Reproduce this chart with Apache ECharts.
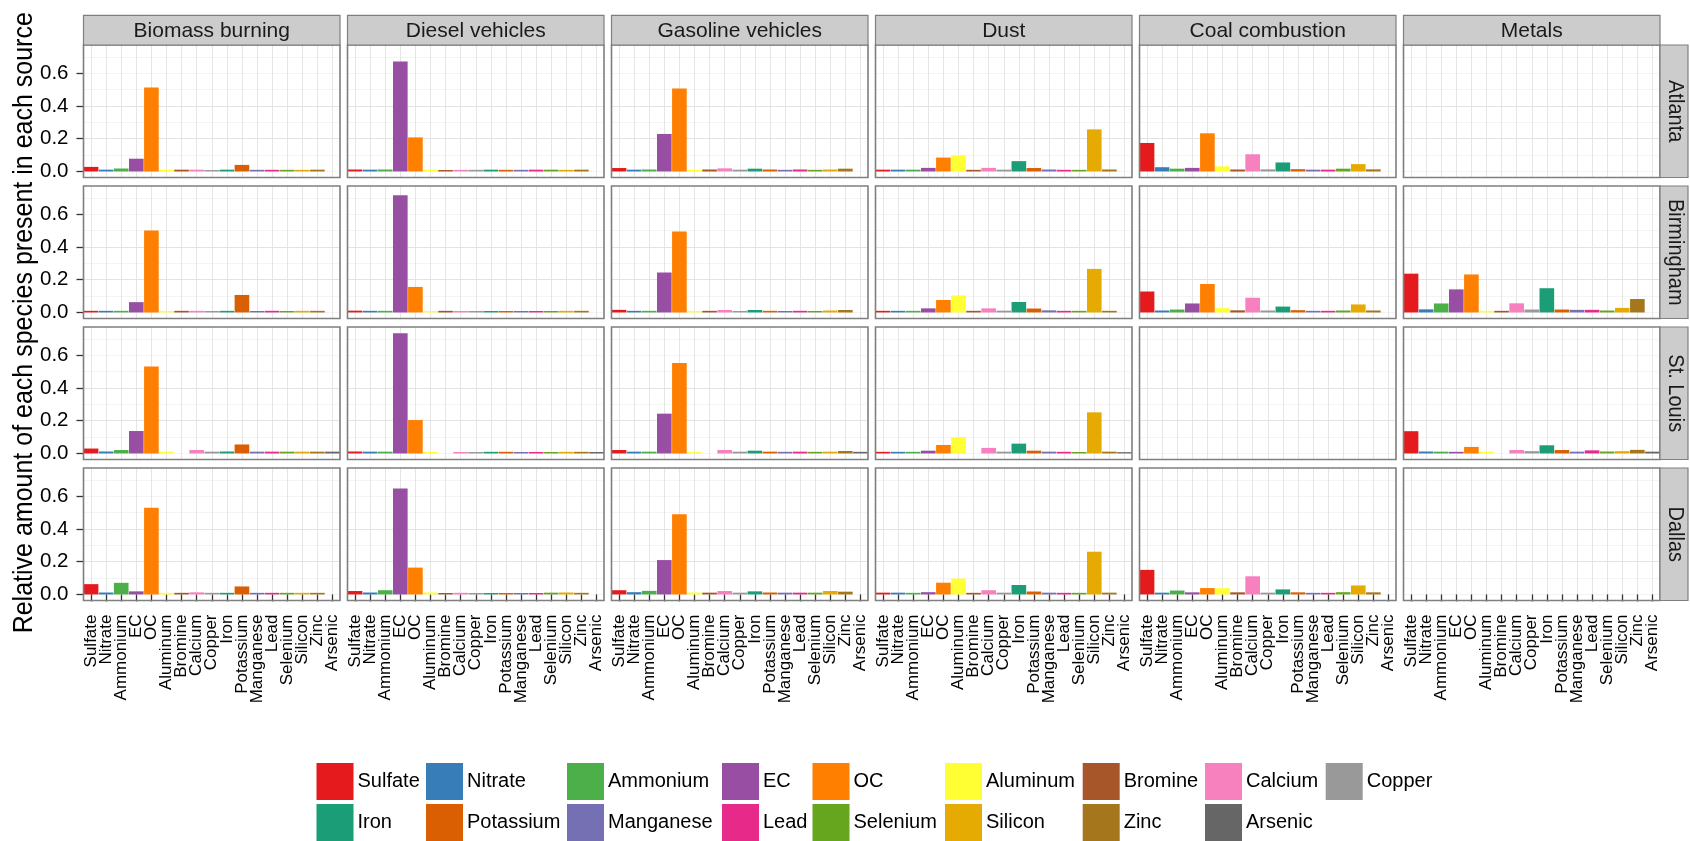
<!DOCTYPE html>
<html>
<head>
<meta charset="utf-8">
<script src="https://cdn.jsdelivr.net/npm/echarts@6/dist/echarts.min.js"></script>
<style>
  html, body { margin: 0; padding: 0; background: #fff; }
  #chart { width: 1690px; height: 841px; }
</style>
</head>
<body>
<div id="chart"></div>
<script>
// Species measured in each source profile (x categories, shared by every panel)
const species = ['Sulfate', 'Nitrate', 'Ammonium', 'EC', 'OC', 'Aluminum', 'Bromine', 'Calcium', 'Copper',
  'Iron', 'Potassium', 'Manganese', 'Lead', 'Selenium', 'Silicon', 'Zinc', 'Arsenic'];
const speciesColors = ['#E41A1C', '#377EB8', '#4DAF4A', '#984EA3', '#FF7F00', '#FFFF33', '#A65628', '#F781BF', '#999999',
  '#1B9E77', '#D95F02', '#7570B3', '#E7298A', '#66A61E', '#E6AB02', '#A6761D', '#666666'];

// Facet columns and rows
const sources = ['Biomass burning', 'Diesel vehicles', 'Gasoline vehicles', 'Dust', 'Coal combustion', 'Metals'];
const cities = ['Atlanta', 'Birmingham', 'St. Louis', 'Dallas'];

// Y tick labels
const yTicks = [0, 0.2, 0.4, 0.6];

// Source profiles: one row per source (same order as `sources`).
// A null row means no profile for that city; a null value means the species was not measured.
const atlanta = [
  [0.028, 0.011, 0.018, 0.078, 0.513, 0.010, 0.011, 0.011, 0.009, 0.011, 0.040, 0.010, 0.010, 0.010, 0.010, 0.011, null],
  [0.012, 0.011, 0.012, 0.672, 0.208, 0.011, 0.009, 0.010, 0.010, 0.011, 0.010, 0.010, 0.011, 0.011, 0.010, 0.011, null],
  [0.021, 0.011, 0.012, 0.229, 0.507, 0.009, 0.012, 0.019, 0.011, 0.017, 0.012, 0.010, 0.012, 0.010, 0.012, 0.017, null],
  [0.011, 0.011, 0.011, 0.022, 0.085, 0.099, 0.010, 0.022, 0.011, 0.063, 0.021, 0.012, 0.010, 0.010, 0.257, 0.012, null],
  [0.174, 0.026, 0.017, 0.022, 0.233, 0.031, 0.012, 0.105, 0.013, 0.055, 0.014, 0.011, 0.011, 0.017, 0.045, 0.013, null],
  null
];
const birmingham = [
  [0.010, 0.010, 0.010, 0.063, 0.500, 0.009, 0.010, 0.010, 0.009, 0.010, 0.107, 0.009, 0.010, 0.009, 0.010, 0.010, null],
  [0.011, 0.010, 0.010, 0.716, 0.156, 0.009, 0.010, 0.009, 0.009, 0.009, 0.009, 0.009, 0.009, 0.009, 0.010, 0.010, null],
  [0.016, 0.010, 0.010, 0.244, 0.495, 0.009, 0.010, 0.015, 0.009, 0.015, 0.010, 0.009, 0.010, 0.009, 0.012, 0.015, null],
  [0.010, 0.010, 0.010, 0.025, 0.076, 0.104, 0.010, 0.025, 0.011, 0.064, 0.024, 0.013, 0.010, 0.010, 0.266, 0.010, null],
  [0.128, 0.012, 0.018, 0.055, 0.174, 0.026, 0.013, 0.090, 0.012, 0.036, 0.014, 0.010, 0.010, 0.012, 0.049, 0.012, null],
  [0.237, 0.019, 0.055, 0.141, 0.232, 0.010, 0.010, 0.056, 0.018, 0.148, 0.018, 0.016, 0.016, 0.012, 0.028, 0.082, null]
];
const stLouis = [
  [0.030, 0.012, 0.021, 0.137, 0.531, 0.011, null, 0.021, 0.011, 0.012, 0.055, 0.011, 0.011, 0.011, 0.011, 0.011, 0.011],
  [0.012, 0.011, 0.011, 0.734, 0.204, 0.009, null, 0.009, 0.009, 0.010, 0.010, 0.009, 0.009, 0.009, 0.010, 0.010, 0.009],
  [0.021, 0.011, 0.011, 0.243, 0.552, 0.008, null, 0.021, 0.011, 0.017, 0.011, 0.010, 0.011, 0.010, 0.011, 0.015, 0.010],
  [0.010, 0.010, 0.010, 0.017, 0.052, 0.100, null, 0.034, 0.011, 0.060, 0.017, 0.011, 0.010, 0.009, 0.251, 0.011, 0.008],
  null,
  [0.136, 0.012, 0.011, 0.010, 0.040, 0.011, null, 0.021, 0.014, 0.050, 0.021, 0.011, 0.019, 0.012, 0.014, 0.022, 0.011]
];
const dallas = [
  [0.063, 0.012, 0.071, 0.019, 0.530, 0.010, 0.010, 0.013, 0.010, 0.010, 0.049, 0.010, 0.010, 0.010, 0.010, 0.010, null],
  [0.021, 0.012, 0.026, 0.647, 0.164, 0.012, 0.009, 0.010, 0.009, 0.009, 0.009, 0.009, 0.009, 0.011, 0.012, 0.010, null],
  [0.026, 0.014, 0.022, 0.210, 0.490, 0.012, 0.011, 0.021, 0.011, 0.019, 0.012, 0.011, 0.011, 0.011, 0.021, 0.017, null],
  [0.011, 0.011, 0.010, 0.014, 0.072, 0.097, 0.010, 0.026, 0.011, 0.058, 0.018, 0.011, 0.010, 0.010, 0.261, 0.011, null],
  [0.150, 0.011, 0.024, 0.013, 0.039, 0.038, 0.013, 0.111, 0.011, 0.031, 0.013, 0.010, 0.010, 0.014, 0.055, 0.013, null],
  null
];
const profilesByCity = [atlanta, birmingham, stLouis, dallas];

// Legend layout: two rows, filled row by row
const legendColumns = [
  ['Sulfate', 'Iron'], ['Nitrate', 'Potassium'], ['Ammonium', 'Manganese'], ['EC', 'Lead'], ['OC', 'Selenium'],
  ['Aluminum', 'Silicon'], ['Bromine', 'Zinc'], ['Calcium', 'Arsenic'], ['Copper']
];
const legendLefts = [316.5, 426, 567, 722, 812.5, 945, 1082.7, 1205, 1325.7];

// Panel geometry
const PANEL_LEFT = 83.5, PANEL_STEP_X = 264, PANEL_W = 256.5;
const PANEL_TOP = 45, PANEL_STEP_Y = 141, PANEL_H = 132.5;
const STRIP_TOP = 15.3, STRIP_H = PANEL_TOP - STRIP_TOP;
const RIGHT_STRIP_W = 28;
const Y_MIN = -0.0368, Y_MAX = 0.772;

const FONT = 'Liberation Sans, Arial, Helvetica, sans-serif';
const BORDER = '#7f7f7f';

const grids = [], xAxes = [], yAxes = [], series = [], graphics = [];

cities.forEach((city, r) => {
  sources.forEach((source, c) => {
    const k = grids.length;
    const left = PANEL_LEFT + c * PANEL_STEP_X;
    const top = PANEL_TOP + r * PANEL_STEP_Y;
    grids.push({ left: left, top: top, width: PANEL_W, height: PANEL_H, containLabel: false,
      show: true, backgroundColor: '#fff', borderWidth: 0 });
    const bottomRow = r === cities.length - 1;
    xAxes.push({
      gridIndex: k, type: 'category', data: species,
      axisLine: { show: false },
      axisTick: { show: bottomRow, alignWithLabel: true, interval: 0, length: 7, lineStyle: { color: '#333', width: 1.3 } },
      axisLabel: { show: bottomRow, interval: 0, rotate: 90, fontSize: 17, margin: 14, color: '#000', fontFamily: FONT },
      splitLine: { show: true, interval: 0, alignWithLabel: true, lineStyle: { color: '#e5e5e5', width: 1 } }
    });
    // minor grid (every 0.1)
    yAxes.push({
      gridIndex: k, type: 'value', min: Y_MIN, max: Y_MAX, splitNumber: 8, position: 'right', z: 0,
      axisLine: { show: false }, axisTick: { show: false }, axisLabel: { show: false },
      splitLine: { show: true, showMinLine: false, showMaxLine: false, lineStyle: { color: '#f4f4f4', width: 1 } }
    });
    // major grid and labels
    yAxes.push({
      gridIndex: k, type: 'value', min: Y_MIN, max: Y_MAX, splitNumber: 4, position: 'left', z: 1,
      axisLine: { show: false },
      axisTick: { show: c === 0, length: 7, customValues: yTicks, lineStyle: { color: '#333', width: 1.3 } },
      axisLabel: { show: c === 0, customValues: yTicks, margin: 15, fontSize: 20.5, color: '#000', fontFamily: FONT,
        formatter: v => v.toFixed(1) },
      splitLine: { show: true, showMinLine: false, showMaxLine: false, lineStyle: { color: '#e3e3e3', width: 1 } }
    });
    const profile = profilesByCity[r][c];
    if (profile) {
      series.push({
        type: 'bar', name: city + ' / ' + source, xAxisIndex: k, yAxisIndex: 2 * k + 1,
        barCategoryGap: '3%',
        data: profile.map((v, i) => v === null ? null : { value: v, itemStyle: { color: speciesColors[i] } }),
        emphasis: { disabled: true },
        silent: true
      });
    }
    // panel border
    graphics.push({ type: 'rect', z: 50, silent: true,
      shape: { x: left, y: top, width: PANEL_W, height: PANEL_H },
      style: { fill: 'none', stroke: BORDER, lineWidth: 1.6 } });
  });
});

// Column strips
sources.forEach((source, c) => {
  const left = PANEL_LEFT + c * PANEL_STEP_X;
  graphics.push({ type: 'rect', z: 50, silent: true,
    shape: { x: left, y: STRIP_TOP, width: PANEL_W, height: STRIP_H },
    style: { fill: '#cccccc', stroke: BORDER, lineWidth: 1.2 } });
  graphics.push({ type: 'text', z: 51, silent: true, x: left + PANEL_W / 2, y: STRIP_TOP + STRIP_H / 2 + 1,
    style: { text: source, fill: '#1a1a1a', font: '21px ' + FONT, textAlign: 'center', textVerticalAlign: 'middle' } });
});

// Row strips
const stripX = PANEL_LEFT + (sources.length - 1) * PANEL_STEP_X + PANEL_W;
cities.forEach((city, r) => {
  const top = PANEL_TOP + r * PANEL_STEP_Y;
  graphics.push({ type: 'rect', z: 50, silent: true,
    shape: { x: stripX, y: top, width: RIGHT_STRIP_W, height: PANEL_H },
    style: { fill: '#cccccc', stroke: BORDER, lineWidth: 1.2 } });
  graphics.push({ type: 'text', z: 51, silent: true, x: stripX + RIGHT_STRIP_W / 2 + 1, y: top + PANEL_H / 2,
    rotation: -Math.PI / 2, scaleY: 1.1,
    style: { text: city, fill: '#1a1a1a', font: '20px ' + FONT, textAlign: 'center', textVerticalAlign: 'middle' } });
});

// Y axis title
graphics.push({ type: 'text', z: 51, silent: true, x: 24, y: PANEL_TOP + (cities.length * PANEL_STEP_Y - (PANEL_STEP_Y - PANEL_H)) / 2,
  rotation: Math.PI / 2, scaleY: 1.12,
  style: { text: 'Relative amount of each species present in each source', fill: '#000', font: '25px ' + FONT,
    textAlign: 'center', textVerticalAlign: 'middle' } });

// Hidden grid carrying one empty series per species for the legend
const legendGrid = grids.length;
grids.push({ left: 0, top: 0, width: 1, height: 1, show: false });
xAxes.push({ gridIndex: legendGrid, type: 'category', data: species, show: false });
yAxes.push({ gridIndex: legendGrid, type: 'value', show: false });
species.forEach((name, i) => {
  series.push({ type: 'bar', name: name, xAxisIndex: legendGrid, yAxisIndex: yAxes.length - 1, data: [],
    itemStyle: { color: speciesColors[i] } });
});

const legends = legendColumns.map((names, j) => ({
  orient: 'vertical', left: legendLefts[j], top: 763, padding: 0,
  itemWidth: 37, itemHeight: 37, itemGap: 4, icon: 'rect', selectedMode: false,
  data: names,
  textStyle: { fontSize: 20, color: '#000', fontFamily: FONT, padding: [0, 0, 0, -1] }
}));

const chart = echarts.init(document.getElementById('chart'), null, { renderer: 'canvas' });
chart.setOption({
  animation: false,
  backgroundColor: '#fff',
  textStyle: { fontFamily: FONT },
  grid: grids,
  xAxis: xAxes,
  yAxis: yAxes,
  series: series,
  legend: legends,
  graphic: { elements: graphics }
});
</script>
</body>
</html>
